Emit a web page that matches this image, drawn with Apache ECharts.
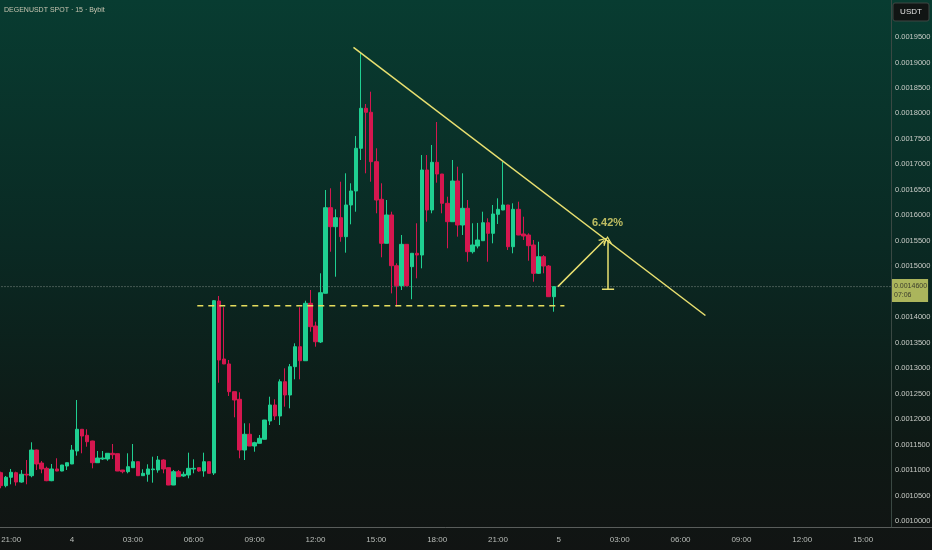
<!DOCTYPE html>
<html>
<head>
<meta charset="utf-8">
<style>
html,body{margin:0;padding:0;background:#0e1412;}
#chart{width:932px;height:550px;}
</style>
<script src="https://cdn.jsdelivr.net/npm/echarts@6/dist/echarts.min.js"></script>
</head>
<body>
<div id="chart"></div>
<script>
// ---- data (prices in USDT), 15-minute candles starting 20:30 (day 3) ----
const opens = [
0.0010947,0.0010692,0.0010857,0.0010947,0.0010764,0.0010916,0.0010888,0.0011392,0.0011137,0.0011033,
0.0010790,0.0011020,0.0010980,0.0011078,0.0011118,0.0011373,0.0011799,0.0011681,0.0011569,0.0011143,
0.0011216,0.0011216,0.0011328,0.0011320,0.0011000,0.0010967,0.0011045,0.0011163,0.0010888,0.0010916,
0.0011006,0.0011000,0.0011196,0.0011045,0.0010705,0.0010967,0.0010882,0.0010902,0.0011020,0.0011045,
0.0010980,0.0011163,0.0010941,0.0014317,0.0013179,0.0013081,0.0012537,0.0012388,0.0011392,0.0011701,
0.0011471,0.0011524,0.0011603,0.0011962,0.0012276,0.0012060,0.0012733,0.0012472,0.0013028,0.0013420,
0.0013145,0.0014272,0.0013827,0.0013513,0.0014469,0.0016149,0.0015776,0.0015953,0.0015580,0.0016202,
0.0016477,0.0017315,0.0018100,0.0018022,0.0017052,0.0016314,0.0015450,0.0016006,0.0015010,0.0014618,
0.0015430,0.0014991,0.0015254,0.0015220,0.0016889,0.0016104,0.0017040,0.0016810,0.0016235,0.0015874,
0.0016673,0.0015809,0.0016137,0.0015285,0.0015397,0.0015501,0.0015854,0.0015646,0.0016019,0.0016104,
0.0016202,0.0015383,0.0016117,0.0015633,0.0015613,0.0015417,0.0014861,0.0015187,0.0015004,0.0014402
];
const closes = [
0.0010692,0.0010857,0.0010955,0.0010764,0.0010916,0.0010902,0.0011392,0.0011118,0.0011020,0.0010790,
0.0011020,0.0010980,0.0011098,0.0011143,0.0011392,0.0011799,0.0011667,0.0011555,0.0011143,0.0011235,
0.0011235,0.0011328,0.0011300,0.0010980,0.0010967,0.0011065,0.0011163,0.0010888,0.0010935,0.0011020,
0.0011020,0.0011196,0.0011020,0.0010705,0.0010967,0.0010868,0.0010916,0.0011033,0.0011033,0.0010980,
0.0011163,0.0010935,0.0014323,0.0013159,0.0013081,0.0012537,0.0012374,0.0011392,0.0011701,0.0011471,
0.0011536,0.0011622,0.0011981,0.0012276,0.0012060,0.0012733,0.0012472,0.0013028,0.0013420,0.0013145,
0.0014272,0.0013813,0.0013518,0.0014480,0.0016149,0.0015776,0.0015953,0.0015580,0.0016202,0.0016477,
0.0017315,0.0018100,0.0018022,0.0017052,0.0016300,0.0015450,0.0016006,0.0015010,0.0014618,0.0015430,
0.0014618,0.0015254,0.0015220,0.0016889,0.0016104,0.0017040,0.0016810,0.0016235,0.0015874,0.0016673,
0.0015809,0.0016137,0.0015285,0.0015417,0.0015515,0.0015854,0.0015646,0.0016025,0.0016117,0.0016202,
0.0015383,0.0016117,0.0015613,0.0015593,0.0015403,0.0014861,0.0015187,0.0015004,0.0014402,0.0014600
];
const lows = [
0.0010641,0.0010660,0.0010719,0.0010692,0.0010751,0.0010719,0.0010857,0.0011000,0.0010935,0.0010780,
0.0010780,0.0010975,0.0010975,0.0011000,0.0011115,0.0011281,0.0011328,0.0011457,0.0011033,0.0011140,
0.0011196,0.0011182,0.0011216,0.0010978,0.0010935,0.0010935,0.0011043,0.0010886,0.0010886,0.0010770,
0.0010751,0.0010947,0.0010935,0.0010703,0.0010703,0.0010866,0.0010866,0.0010837,0.0010935,0.0010967,
0.0010868,0.0010933,0.0010902,0.0012714,0.0013079,0.0012453,0.0012034,0.0011230,0.0011196,0.0011469,
0.0011359,0.0011522,0.0011601,0.0011883,0.0011981,0.0011883,0.0012243,0.0012211,0.0012780,0.0012780,
0.0013143,0.0013715,0.0013420,0.0013493,0.0014467,0.0015285,0.0014794,0.0015481,0.0015266,0.0015823,
0.0016070,0.0017085,0.0016824,0.0016659,0.0016039,0.0015175,0.0015448,0.0014467,0.0014206,0.0014533,
0.0014610,0.0014351,0.0014763,0.0014959,0.0015874,0.0016039,0.0016640,0.0016039,0.0015352,0.0015872,
0.0015580,0.0015613,0.0015089,0.0015250,0.0015350,0.0015499,0.0015089,0.0015450,0.0015829,0.0016100,
0.0015319,0.0015254,0.0015610,0.0015515,0.0015108,0.0014696,0.0014847,0.0014861,0.0014400,0.0014107
];
const highs = [
0.0010967,0.0010882,0.0011020,0.0010967,0.0011000,0.0011196,0.0011544,0.0011400,0.0011177,0.0011065,
0.0011118,0.0011230,0.0011100,0.0011145,0.0011491,0.0012374,0.0011805,0.0011799,0.0011575,0.0011373,
0.0011373,0.0011330,0.0011510,0.0011322,0.0011002,0.0011328,0.0011510,0.0011165,0.0011014,0.0011112,
0.0011261,0.0011275,0.0011210,0.0011047,0.0011000,0.0011000,0.0010967,0.0011340,0.0011210,0.0011047,
0.0011340,0.0011165,0.0014337,0.0014416,0.0014194,0.0013159,0.0012539,0.0012525,0.0011917,0.0011917,
0.0011555,0.0011687,0.0011983,0.0012439,0.0012388,0.0012780,0.0012996,0.0013081,0.0013487,0.0014194,
0.0014323,0.0014533,0.0013911,0.0014861,0.0016496,0.0016530,0.0016117,0.0016659,0.0016824,0.0016628,
0.0017556,0.0019205,0.0018185,0.0018426,0.0017315,0.0016628,0.0016300,0.0016070,0.0015057,0.0015613,
0.0015432,0.0015256,0.0015843,0.0017183,0.0017183,0.0017380,0.0017831,0.0016812,0.0016365,0.0017085,
0.0016954,0.0016824,0.0016300,0.0015843,0.0015850,0.0016070,0.0015941,0.0016202,0.0016333,0.0017052,
0.0016205,0.0016235,0.0016267,0.0015972,0.0015646,0.0015515,0.0015481,0.0015220,0.0015024,0.0014600
];

// x axis: 176 fifteen-minute slots (data + empty future space)
const slotCount = 176;
const xTickIndex  = [2,14,26,38,50,62,74,86,98,110,122,134,146,158,170];
const xTickLabels = ['21:00','4','03:00','06:00','09:00','12:00','15:00','18:00','21:00','5','03:00','06:00','09:00','12:00','15:00'];
// 0.0014500 is hidden behind the last-price tag in the original
const yTickValues = [0.0010000,0.0010500,0.0011000,0.0011500,0.0012000,0.0012500,0.0013000,0.0013500,0.0014000,
                     0.0015000,0.0015500,0.0016000,0.0016500,0.0017000,0.0017500,0.0018000,0.0018500,0.0019000,0.0019500];

// drawings (x in slot index, y in price)
const trendLine   = [[69.5, 0.0019296], [138.9, 0.0014033]];
const supportLine = [[38.7, 0.0014225], [111.1, 0.0014225]];
const moveArrow   = [[109.8, 0.0014600], [118.9, 0.0015505]];
const targetArrow = [[119.6, 0.0014547], [119.6, 0.0015515]];
const targetCap   = [[118.5, 0.0014547], [120.9, 0.0014547]];
const targetLabel = [[119.6, 0.0015843, '6.42%']];
const lastPrice = 0.0014600;
const priceTag = ['0.0014600', '07:06'];
const titleText = 'DEGENUSDT SPOT · 15 · Bybit';

// ---- build ----
const categories = [];
for (let i = 0; i < slotCount; i++) {
  const t = 20 * 60 + 30 + 15 * i;
  const h = Math.floor(t / 60) % 24, m = t % 60;
  categories.push(String(h).padStart(2, '0') + ':' + String(m).padStart(2, '0') + '#' + i);
}
const candleData = opens.map((o, i) => [o, closes[i], lows[i], highs[i]]);
const priceLine = [[-0.5, lastPrice], [slotCount - 0.5, lastPrice]];

const UP = '#1fcf91', DOWN = '#d5174f', YEL = '#e9e070';
const FONT = "'Liberation Sans', Roboto, sans-serif";
const CHEVRON = 'path://M0,10 L5,0 L10,10 L8.6,10.8 L5,3.2 L1.4,10.8 Z';

const chart = echarts.init(document.getElementById('chart'), null, {renderer: 'canvas'});
const option = {
  animation: false,
  backgroundColor: {
    type: 'linear', x: 0, y: 0, x2: 0, y2: 1,
    colorStops: [
      {offset: 0, color: '#083c31'},
      {offset: 0.45, color: '#0a2923'},
      {offset: 0.8, color: '#0e1915'},
      {offset: 1, color: '#111413'}
    ]
  },
  title: {
    text: titleText, left: 4, top: 7, padding: 0,
    textStyle: {color: '#c6c4b0', fontSize: 7, fontWeight: 'normal', fontFamily: FONT}
  },
  grid: {left: -1.5, right: 41, top: 0, bottom: 23, containLabel: false, outerBoundsMode: 'none'},
  xAxis: [{
    type: 'category', data: categories, boundaryGap: true,
    axisLine: {show: true, onZero: false, lineStyle: {color: '#595d5b', width: 1}},
    axisTick: {show: false},
    splitLine: {show: false},
    axisLabel: {
      color: '#b9bdb9', fontSize: 8, fontFamily: FONT, margin: 9,
      interval: (idx) => xTickIndex.indexOf(idx) >= 0,
      formatter: (val, idx) => { const k = xTickIndex.indexOf(idx); return k >= 0 ? xTickLabels[k] : ''; }
    }
  }, {
    type: 'value', min: -0.5, max: slotCount - 0.5, show: false
  }],
  yAxis: {
    type: 'value', position: 'right', min: 0.0009881, max: 0.0020226, scale: true,
    axisLine: {show: true, onZero: false, lineStyle: {color: '#3a4843', width: 1}},
    axisTick: {show: false},
    splitLine: {show: false},
    axisLabel: {
      color: '#c8cbc6', fontSize: 7.5, fontFamily: FONT, margin: 4,
      customValues: yTickValues,
      formatter: (v) => v.toFixed(7)
    }
  },
  graphic: [
    {type: 'rect', shape: {x: 893, y: 3, width: 36, height: 18, r: 2},
     style: {fill: '#111514', stroke: '#3e4743', lineWidth: 1}},
    {type: 'text', x: 911, y: 12, style: {text: 'USDT', fill: '#e2e2e2', fontSize: 8, fontFamily: FONT, align: 'center', verticalAlign: 'middle'}},
    {type: 'line', shape: {x1: 891, y1: 527.5, x2: 932, y2: 527.5}, style: {stroke: '#595d5b', lineWidth: 1}}
  ],
  series: [
    {
      type: 'line', xAxisIndex: 1, data: priceLine, symbol: 'none', silent: true, z: 1,
      lineStyle: {color: '#7f8c86', width: 1, type: [1, 2]}
    },
    {
      type: 'candlestick', data: candleData, barWidth: 4, z: 2,
      itemStyle: {color: UP, color0: DOWN, borderColor: UP, borderColor0: DOWN, borderWidth: 1}
    },
    {
      type: 'line', xAxisIndex: 1, data: trendLine, symbol: 'none', silent: true, z: 3,
      lineStyle: {color: YEL, width: 1.5}
    },
    {
      type: 'line', xAxisIndex: 1, data: supportLine, symbol: 'none', silent: true, z: 3,
      lineStyle: {color: '#e6dd5e', width: 1.6, type: [6, 5]}
    },
    {
      type: 'line', xAxisIndex: 1, data: targetCap, symbol: 'none', silent: true, z: 3,
      lineStyle: {color: YEL, width: 1.5}
    },
    {
      type: 'line', xAxisIndex: 1, data: [moveArrow[0]], symbol: 'none', silent: true, z: 3,
      lineStyle: {opacity: 0},
      markLine: {
        silent: true, symbol: ['none', CHEVRON], symbolSize: [9, 8],
        lineStyle: {color: YEL, width: 1.5, type: 'solid'},
        label: {show: false},
        data: [
          [{coord: moveArrow[0]}, {coord: moveArrow[1]}],
          [{coord: targetArrow[0]}, {coord: targetArrow[1]}]
        ]
      }
    },
    {
      type: 'scatter', xAxisIndex: 1, data: targetLabel, symbolSize: 0, silent: true, z: 4,
      label: {show: true, position: 'inside', formatter: (p) => p.data[2], color: YEL, fontSize: 11, fontWeight: 'bold', fontFamily: FONT}
    },
    {
      type: 'scatter', xAxisIndex: 1, data: [[slotCount - 0.5, lastPrice]], symbolSize: 0, silent: true, clip: false, z: 5,
      label: {
        show: true, position: 'right', distance: 1, offset: [0, 4],
        formatter: priceTag.join('\n'),
        backgroundColor: '#d3da6c', color: '#202020', fontSize: 7, lineHeight: 9,
        fontFamily: FONT, padding: [3, 1, 2, 2]
      }
    }
  ]
};
chart.setOption(option);
</script>
</body>
</html>
